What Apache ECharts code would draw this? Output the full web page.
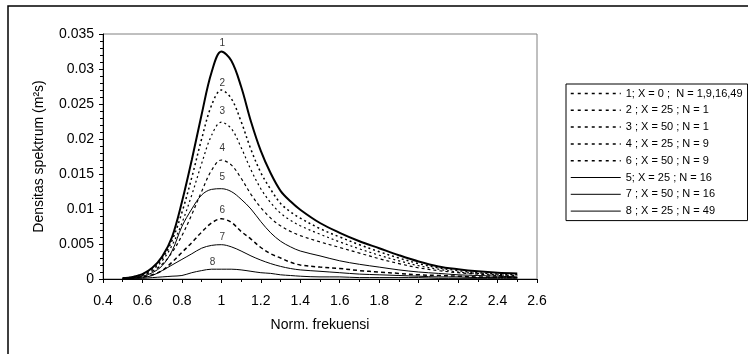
<!DOCTYPE html>
<html>
<head>
<meta charset="utf-8">
<script src="https://cdn.jsdelivr.net/npm/echarts@6/dist/echarts.min.js"></script>
<style>
  html, body { margin: 0; padding: 0; background: #fff; }
  #chart { width: 748px; height: 354px; }
</style>
</head>
<body>
<div id="chart"></div>
<script>
// Normalised frequency (shared by all spectra)
const freq = [0.5, 0.55, 0.6, 0.65, 0.7, 0.75, 0.8, 0.85, 0.9, 0.95, 1.0, 1.05, 1.1, 1.15, 1.2, 1.25, 1.3, 1.35, 1.4, 1.5, 1.6, 1.7, 1.8, 1.9, 2.0, 2.1, 2.2, 2.3, 2.4, 2.5];

// Spectral density per case (m²s)
const spec1 = [0.0001, 0.0003, 0.0007, 0.0016, 0.0032, 0.0060, 0.0110, 0.0170, 0.0235, 0.0295, 0.0325, 0.0312, 0.0275, 0.0225, 0.0183, 0.0151, 0.0126, 0.0111, 0.0099, 0.0080, 0.0066, 0.0054, 0.0044, 0.0034, 0.0025, 0.0018, 0.0014, 0.0011, 0.0009, 0.0008];
const spec2 = [0.0001, 0.0003, 0.0007, 0.0015, 0.0029, 0.0055, 0.0095, 0.0145, 0.0200, 0.0248, 0.0270, 0.0258, 0.0225, 0.0185, 0.0152, 0.0128, 0.0108, 0.0096, 0.0087, 0.0072, 0.0060, 0.0049, 0.0039, 0.0030, 0.0022, 0.0016, 0.0012, 0.0009, 0.0007, 0.0006];
const spec3 = [0.0001, 0.0002, 0.0006, 0.0013, 0.0026, 0.0048, 0.0080, 0.0120, 0.0165, 0.0205, 0.0224, 0.0215, 0.0188, 0.0156, 0.0129, 0.0109, 0.0094, 0.0084, 0.0076, 0.0064, 0.0053, 0.0043, 0.0034, 0.0026, 0.0019, 0.0014, 0.0010, 0.0008, 0.0006, 0.0005];
const spec4 = [0.0001, 0.0002, 0.0005, 0.0011, 0.0021, 0.0038, 0.0062, 0.0092, 0.0125, 0.0155, 0.0170, 0.0163, 0.0144, 0.0121, 0.0102, 0.0087, 0.0076, 0.0068, 0.0062, 0.0053, 0.0045, 0.0037, 0.0029, 0.0022, 0.0016, 0.0012, 0.0009, 0.0007, 0.0005, 0.0004];
const spec5 = [0.0001, 0.0002, 0.0004, 0.0009, 0.0019, 0.0040, 0.0075, 0.0100, 0.0120, 0.0128, 0.0129, 0.0125, 0.0114, 0.0100, 0.0082, 0.0066, 0.0054, 0.0046, 0.0040, 0.0033, 0.0026, 0.0021, 0.0017, 0.0013, 0.0010, 0.0008, 0.0006, 0.0005, 0.0004, 0.0003];
const spec6 = [0.0001, 0.0001, 0.0003, 0.0006, 0.0012, 0.0024, 0.0038, 0.0052, 0.0067, 0.0080, 0.0086, 0.0081, 0.0068, 0.0057, 0.0045, 0.0036, 0.0030, 0.0024, 0.0020, 0.0017, 0.0015, 0.0012, 0.0010, 0.0008, 0.0006, 0.0005, 0.0004, 0.0003, 0.0003, 0.0002];
const spec7 = [0.0000, 0.0001, 0.0002, 0.0005, 0.0012, 0.0020, 0.0028, 0.0036, 0.0044, 0.0048, 0.0049, 0.0046, 0.0040, 0.0033, 0.0027, 0.0022, 0.0018, 0.0015, 0.0013, 0.0011, 0.0009, 0.0007, 0.0006, 0.0005, 0.0004, 0.0003, 0.0003, 0.0002, 0.0002, 0.0002];
const spec8 = [0.0000, 0.0001, 0.0001, 0.0002, 0.0003, 0.0004, 0.0005, 0.0009, 0.0012, 0.0014, 0.0014, 0.0014, 0.0013, 0.0011, 0.0009, 0.0008, 0.0006, 0.0005, 0.0004, 0.0003, 0.0003, 0.0002, 0.0002, 0.0002, 0.0002, 0.0001, 0.0001, 0.0001, 0.0001, 0.0001];

// Curve numbers and legend entries
const curveIds = ['1', '2', '3', '4', '5', '6', '7', '8'];
const legendNames = [
  '1; X = 0 ;  N = 1,9,16,49',
  '2 ; X = 25 ; N = 1',
  '3 ; X = 50 ; N = 1',
  '4 ; X = 25 ; N = 9',
  '5; X = 25 ; N = 16',
  '6 ; X = 50 ; N = 9',
  '7 ; X = 50 ; N = 16',
  '8 ; X = 25 ; N = 49'
];
const legendOrder = [0, 1, 2, 3, 5, 4, 6, 7];

// Axis ticks
const xTicks = [0.4, 0.6, 0.8, 1, 1.2, 1.4, 1.6, 1.8, 2, 2.2, 2.4, 2.6];
const yTicks = [0, 0.005, 0.01, 0.015, 0.02, 0.025, 0.03, 0.035];

const specs = [spec1, spec2, spec3, spec4, spec5, spec6, spec7, spec8];

// Line looks: curve 1 heavy solid, dotted / dashed for the others
const looks = [
  { width: 2,   type: 'solid', dist: 3 },
  { width: 1.5, type: [2, 3],  dist: 2 },
  { width: 1.2, type: [2, 3],  dist: 6 },
  { width: 1.2, type: [3, 3],  dist: 7 },
  { width: 1,   type: 'solid', dist: 6 },
  { width: 1.5, type: [4, 3],  dist: 4 },
  { width: 1,   type: 'solid', dist: 2 },
  { width: 1,   type: 'solid', dist: 2 }
];
const legendDotted = [true, true, true, true, false, true, false, false];

const FONT = 'Liberation Sans, Arial, sans-serif';

const lineSeries = specs.map((vals, k) => ({
  name: legendNames[k],
  type: 'line',
  data: freq.map((f, i) => [f, vals[i]]),
  symbol: 'none',
  smooth: 0.35,
  lineStyle: { color: '#000', width: looks[k].width, type: looks[k].type },
  itemStyle: { color: '#000' },
  emphasis: { disabled: true },
  z: 10 - k
}));

// Curve numbers written just above each spectral peak
const peakLabels = {
  type: 'scatter',
  symbolSize: 0,
  silent: true,
  z: 20,
  data: specs.map((vals, k) => {
    let peak = 0;
    vals.forEach((v, i) => { if (v > vals[peak]) peak = i; });
    return {
      value: [freq[peak], vals[peak]],
      label: {
        show: true, position: 'top', distance: looks[k].dist,
        formatter: curveIds[k], fontSize: 10, fontFamily: FONT, color: '#000', offset: [1, 0]
      }
    };
  })
};

const xStep = +(xTicks[1] - xTicks[0]).toFixed(4);
const yStep = +(yTicks[1] - yTicks[0]).toFixed(4);

const chart = echarts.init(document.getElementById('chart'), null, { renderer: 'canvas' });
chart.setOption({
  animation: false,
  backgroundColor: '#fff',
  grid: {
    left: 103, right: 211, top: 34, bottom: 75,
    show: true, borderColor: '#808080', borderWidth: 1, backgroundColor: 'transparent'
  },
  xAxis: {
    type: 'value',
    min: xTicks[0], max: xTicks[xTicks.length - 1], interval: xStep,
    name: 'Norm. frekuensi', nameLocation: 'middle', nameGap: 39,
    nameTextStyle: { fontSize: 14, fontFamily: FONT, color: '#000' },
    axisLine: { show: true, onZero: false, lineStyle: { color: '#000', width: 1 } },
    axisTick: { show: true, inside: false, length: 4, lineStyle: { color: '#000' } },
    minorTick: { show: true, splitNumber: 2, length: 3, lineStyle: { color: '#000' } },
    axisLabel: { fontSize: 14, fontFamily: FONT, color: '#000', margin: 15 },
    splitLine: { show: false }
  },
  yAxis: {
    type: 'value',
    min: yTicks[0], max: yTicks[yTicks.length - 1], interval: yStep,
    name: 'Densitas spektrum (m²s)', nameLocation: 'middle', nameGap: 57,
    nameTextStyle: { fontSize: 14, fontFamily: FONT, color: '#000' },
    axisLine: { show: true, lineStyle: { color: '#000', width: 1 } },
    axisTick: { show: true, inside: false, length: 4, lineStyle: { color: '#000' } },
    minorTick: { show: true, splitNumber: 5, length: 3, lineStyle: { color: '#000' } },
    axisLabel: { fontSize: 14, fontFamily: FONT, color: '#000', margin: 9 },
    splitLine: { show: false }
  },
  legend: {
    orient: 'vertical',
    left: 566, top: 84,
    padding: [4, 5, 4, 4],
    itemGap: 5.8,
    itemWidth: 50, itemHeight: 12,
    borderColor: '#000', borderWidth: 1,
    backgroundColor: '#fff',
    selectedMode: false,
    itemStyle: { opacity: 0 },
    textStyle: { fontSize: 11, fontFamily: FONT, color: '#000' },
    data: legendOrder.map(k => ({
      name: legendNames[k],
      itemStyle: { opacity: 0 },
      lineStyle: legendDotted[k] ? { type: [3, 4], width: 1.5, color: '#000' } : { type: 'solid', width: 1, color: '#000' }
    }))
  },
  graphic: [
    {
      type: 'rect', silent: true, z: -1,
      shape: { x: 8, y: 6, width: 780, height: 380 },
      style: { fill: 'none', stroke: '#000', lineWidth: 1.5 }
    }
  ],
  series: lineSeries.concat([peakLabels])
});
</script>
</body>
</html>
